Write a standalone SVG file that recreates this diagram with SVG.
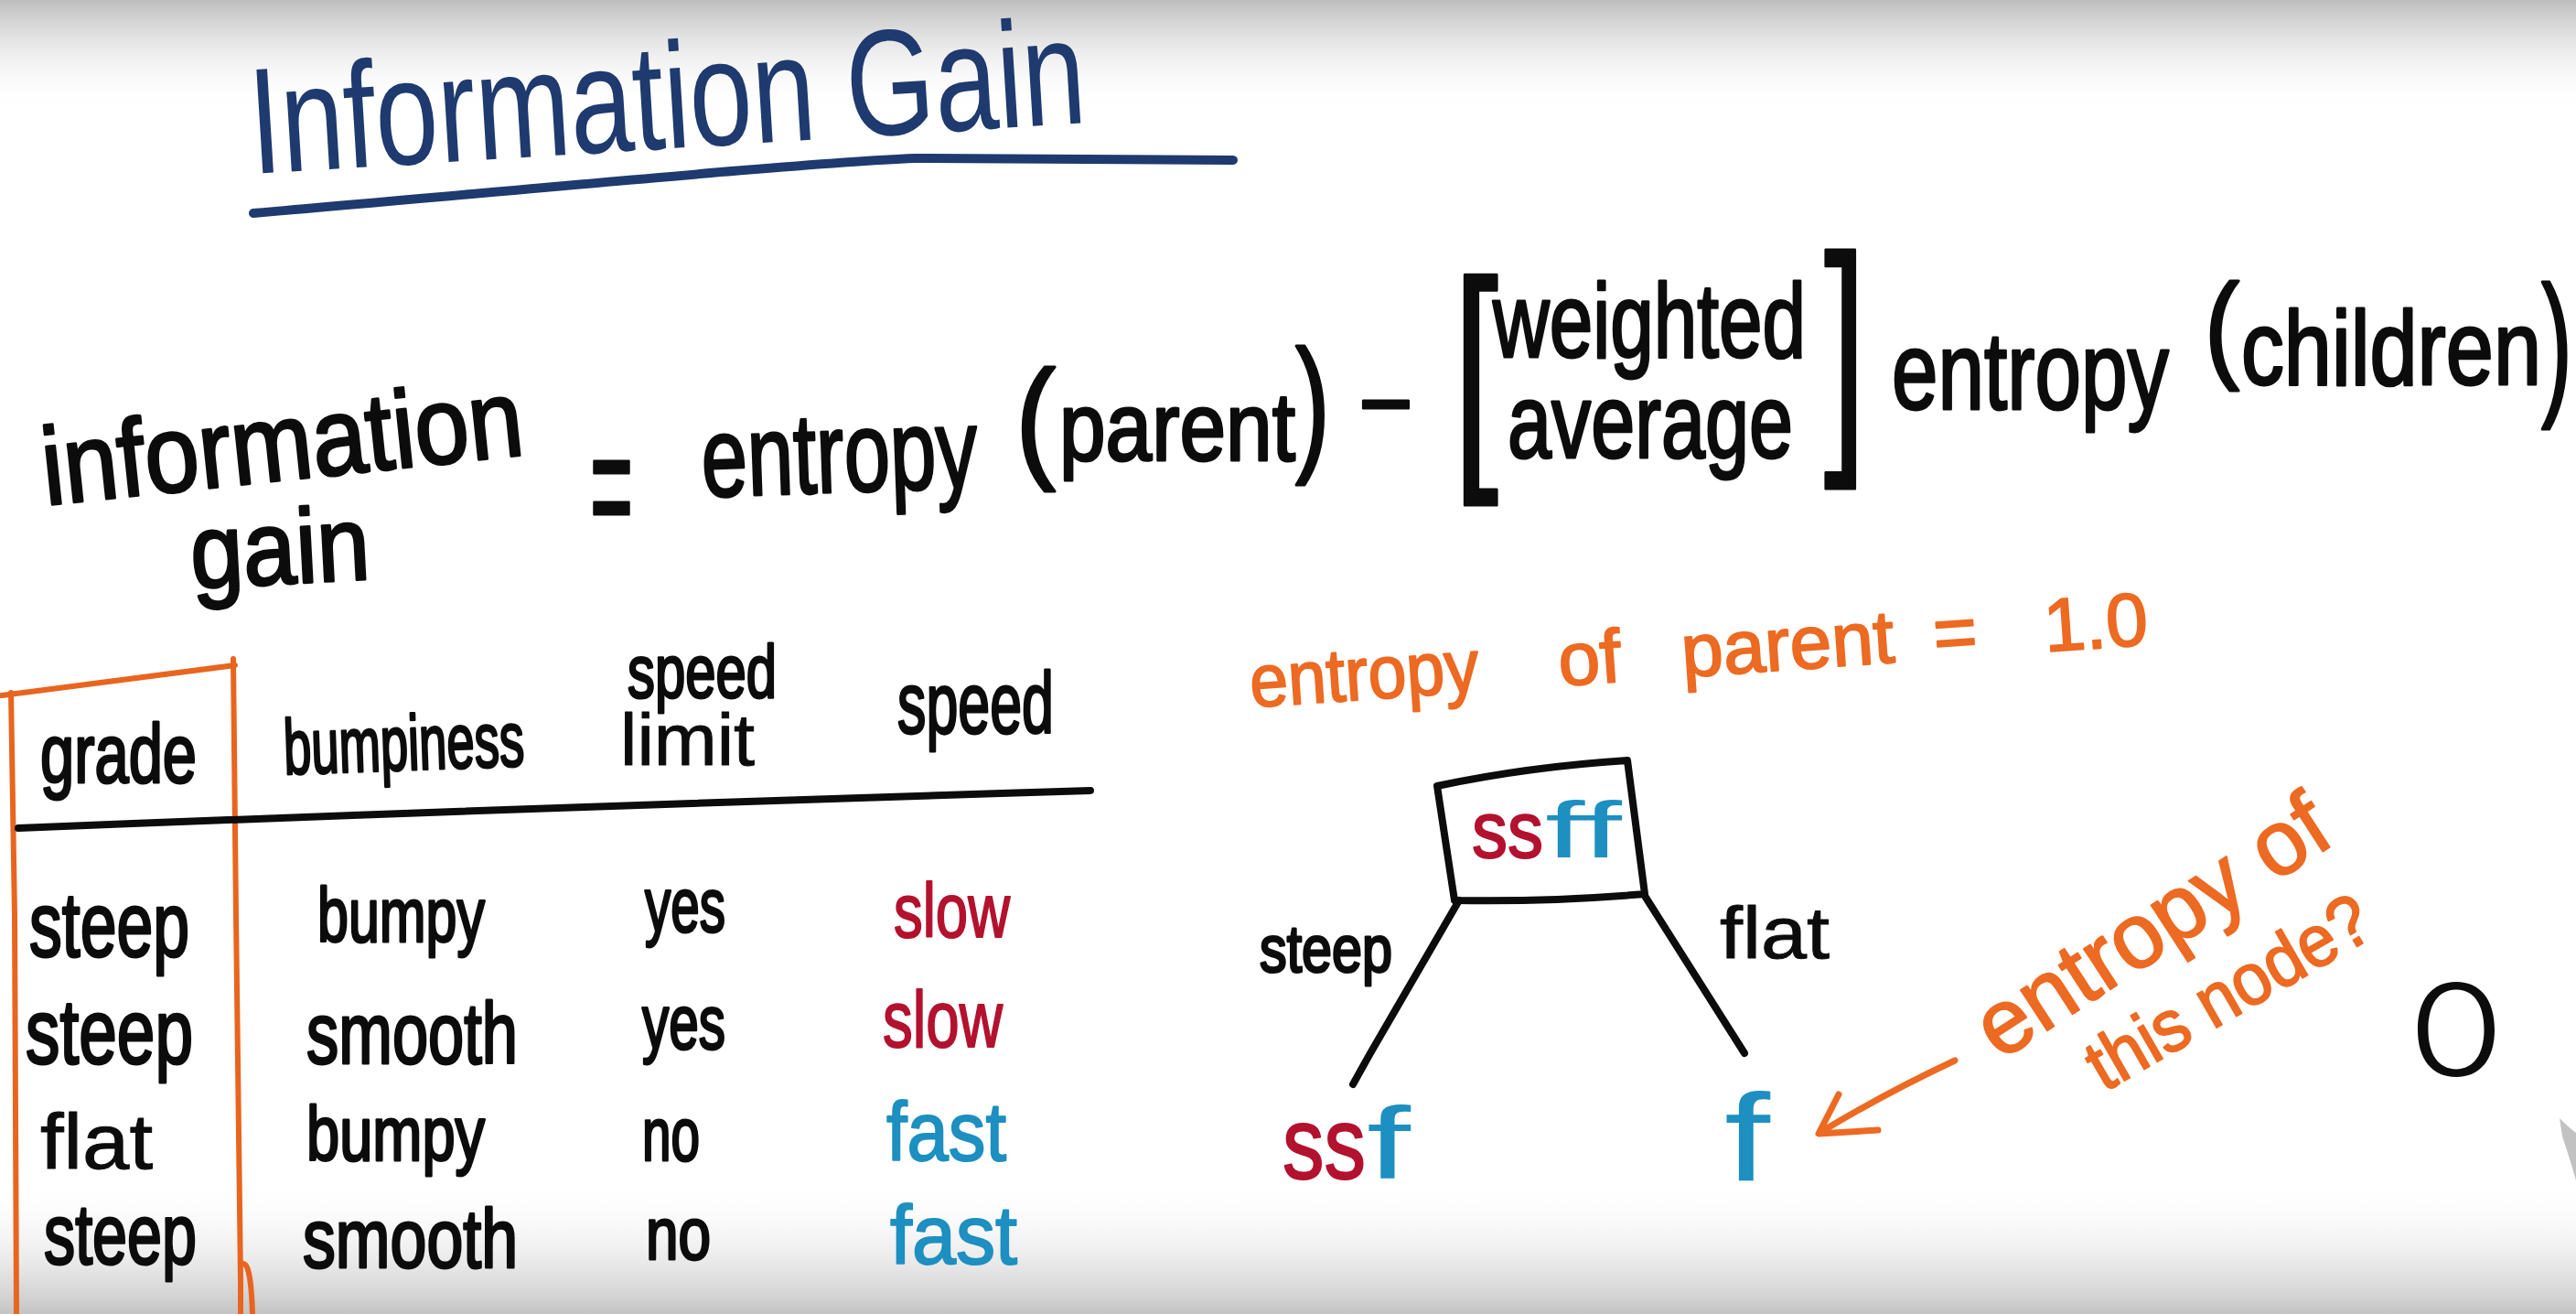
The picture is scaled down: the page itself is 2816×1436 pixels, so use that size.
<svg xmlns="http://www.w3.org/2000/svg" width="2816" height="1436" viewBox="0 0 2816 1436">
<defs>
<linearGradient id="topg" x1="0" y1="0" x2="0" y2="1"><stop offset="0" stop-color="#bdbdbd"/><stop offset="1" stop-color="#ffffff" stop-opacity="0"/></linearGradient>
<linearGradient id="botg" x1="0" y1="0" x2="0" y2="1"><stop offset="0" stop-color="#ffffff" stop-opacity="0"/><stop offset="1" stop-color="#c4c4c4"/></linearGradient>
<style>
text{font-family:"Liberation Sans",Arial,sans-serif;stroke-linejoin:round}
.k{fill:#0c0c0c;stroke:#0c0c0c;stroke-width:3}
.t{stroke-width:1}
.n{fill:#1e3a6e;stroke:none}
.o{fill:#ec6a22;stroke:#ec6a22;stroke-width:2}
.r{fill:#b3122f;stroke:#b3122f;stroke-width:2}
.b{fill:#1d8fc0;stroke:#1d8fc0;stroke-width:2}
.ln{fill:none;stroke:#0c0c0c;stroke-width:8;stroke-linecap:round;stroke-linejoin:round}
.ol{fill:none;stroke:#e8651f;stroke-width:6;stroke-linecap:round;stroke-linejoin:round}
</style>
</defs>
<rect width="2816" height="1436" fill="#ffffff"/>
<rect width="2816" height="120" fill="url(#topg)"/>
<rect y="1290" width="2816" height="146" fill="url(#botg)"/>

<g id="title">
<text class="n" x="276" y="190" font-size="165" textLength="915" lengthAdjust="spacingAndGlyphs" transform="rotate(-3.5 276 190)">Information Gain</text>
<path d="M277,233 C600,205 880,178 1000,173 L1348,175" fill="none" stroke="#1e3a6e" stroke-width="10" stroke-linecap="round"/>
</g>

<g id="formula">
<text class="k" x="50" y="552" font-size="120" textLength="528" lengthAdjust="spacingAndGlyphs" transform="rotate(-6 50 552)">information</text>
<text class="k" x="210" y="643" font-size="115" textLength="196" lengthAdjust="spacingAndGlyphs" transform="rotate(-3 210 643)">gain</text>
<text class="k" x="645" y="592" font-size="180" textLength="47" lengthAdjust="spacingAndGlyphs">=</text>
<text class="k" x="768" y="543" font-size="125" textLength="302" lengthAdjust="spacingAndGlyphs" transform="rotate(-2 768 543)">entropy</text>
<text class="k"><tspan x="1110" y="507" font-size="146" textLength="44" lengthAdjust="spacingAndGlyphs">(</tspan><tspan x="1158" y="503" font-size="105" textLength="258" lengthAdjust="spacingAndGlyphs">parent</tspan><tspan x="1416" y="496" font-size="163" textLength="38" lengthAdjust="spacingAndGlyphs">)</tspan></text>
<text class="k" x="1490" y="473" font-size="120" textLength="50" lengthAdjust="spacingAndGlyphs">–</text>
<text class="k" x="1588" y="496" font-size="270" textLength="50" lengthAdjust="spacingAndGlyphs">[</text>
<text class="k" x="1632" y="390" font-size="115" textLength="342" lengthAdjust="spacingAndGlyphs">weighted</text>
<text class="k" x="1648" y="500" font-size="115" textLength="312" lengthAdjust="spacingAndGlyphs">average</text>
<text class="k" x="1994" y="476" font-size="280" textLength="46" lengthAdjust="spacingAndGlyphs">]</text>
<text class="k" x="2068" y="447" font-size="120" textLength="303" lengthAdjust="spacingAndGlyphs">entropy</text>
<text class="k"><tspan x="2410" y="400" font-size="128" textLength="38" lengthAdjust="spacingAndGlyphs">(</tspan><tspan x="2450" y="420" font-size="115" textLength="328" lengthAdjust="spacingAndGlyphs">children</tspan><tspan x="2778" y="433" font-size="173" textLength="34" lengthAdjust="spacingAndGlyphs">)</tspan></text>
</g>

<g id="table">
<path class="ol" d="M2,760 L257,727"/>
<path class="ol" d="M12,757 L16,1000 L18,1436"/>
<path class="ol" d="M255,720 L258,1000 L263,1400 L263,1436"/>
<path class="ol" d="M264,1382 Q274,1374 276,1436"/>
<path class="ln" d="M20,905 Q600,882 1192,864"/>
<text class="k" x="44" y="855" font-size="90" textLength="171" lengthAdjust="spacingAndGlyphs">grade</text>
<text class="k" x="311" y="846" font-size="85" textLength="263" lengthAdjust="spacingAndGlyphs" transform="rotate(-2 311 846)">bumpiness</text>
<text class="k" x="686" y="762" font-size="82" textLength="163" lengthAdjust="spacingAndGlyphs">speed</text>
<text class="k t" x="678" y="836" font-size="80" textLength="147" lengthAdjust="spacingAndGlyphs">limit</text>
<text class="k" x="981" y="801" font-size="95" textLength="171" lengthAdjust="spacingAndGlyphs">speed</text>

<text class="k" x="32" y="1045" font-size="100" textLength="175" lengthAdjust="spacingAndGlyphs">steep</text>
<text class="k" x="347" y="1029" font-size="84" textLength="183" lengthAdjust="spacingAndGlyphs">bumpy</text>
<text class="k" x="705" y="1018" font-size="84" textLength="88" lengthAdjust="spacingAndGlyphs">yes</text>
<text class="r" x="977" y="1024" font-size="84" textLength="127" lengthAdjust="spacingAndGlyphs">slow</text>

<text class="k" x="28" y="1162" font-size="100" textLength="183" lengthAdjust="spacingAndGlyphs">steep</text>
<text class="k" x="335" y="1162" font-size="95" textLength="231" lengthAdjust="spacingAndGlyphs">smooth</text>
<text class="k" x="702" y="1146" font-size="84" textLength="91" lengthAdjust="spacingAndGlyphs">yes</text>
<text class="r" x="965" y="1144" font-size="88" textLength="131" lengthAdjust="spacingAndGlyphs">slow</text>

<text class="k t" x="44" y="1277" font-size="85" textLength="123" lengthAdjust="spacingAndGlyphs">flat</text>
<text class="k" x="335" y="1268" font-size="84" textLength="195" lengthAdjust="spacingAndGlyphs">bumpy</text>
<text class="k" x="702" y="1268" font-size="82" textLength="63" lengthAdjust="spacingAndGlyphs">no</text>
<text class="b" x="969" y="1268" font-size="90" textLength="131" lengthAdjust="spacingAndGlyphs">fast</text>

<text class="k" x="48" y="1381" font-size="92" textLength="167" lengthAdjust="spacingAndGlyphs">steep</text>
<text class="k" x="331" y="1385" font-size="90" textLength="235" lengthAdjust="spacingAndGlyphs">smooth</text>
<text class="k" x="706" y="1376" font-size="80" textLength="71" lengthAdjust="spacingAndGlyphs">no</text>
<text class="b" x="973" y="1381" font-size="90" textLength="139" lengthAdjust="spacingAndGlyphs">fast</text>
</g>

<g id="parent-entropy-note">
<text class="o" font-size="82" transform="rotate(-4 1368 773)" y="773"><tspan x="1368" textLength="251" lengthAdjust="spacingAndGlyphs">entropy</tspan> <tspan x="1706">of</tspan> <tspan x="1841" textLength="233" lengthAdjust="spacingAndGlyphs">parent</tspan> <tspan x="2117">=</tspan> <tspan x="2238">1.0</tspan></text>
</g>

<g id="node-parent">
<path class="ln" d="M1571,859 Q1670,838 1779,831 L1798,977 Q1690,986 1590,984 Z"/>
<text font-size="88" y="937"><tspan class="r" x="1609" textLength="78" lengthAdjust="spacingAndGlyphs">ss</tspan><tspan class="b" x="1689" textLength="84" lengthAdjust="spacingAndGlyphs" style="stroke-width:0">ff</tspan></text>
</g>

<g id="node-steep">
<text font-size="112" y="1288"><tspan class="r" x="1402" textLength="91" lengthAdjust="spacingAndGlyphs">ss</tspan><tspan class="b" x="1494" textLength="48" lengthAdjust="spacingAndGlyphs" style="stroke-width:0">f</tspan></text>
</g>

<g id="node-flat">
<text class="b" x="1885" y="1290" font-size="135" textLength="50" lengthAdjust="spacingAndGlyphs" style="stroke-width:0">f</text>
</g>

<g id="connectors">
<path class="ln" d="M1595,984 L1498,1151 L1479,1185"/>
<path class="ln" d="M1798,979 L1907,1151"/>
<text class="k" x="1377" y="1062" font-size="72" textLength="145" lengthAdjust="spacingAndGlyphs">steep</text>
<text class="k t" x="1880" y="1047" font-size="80" textLength="120" lengthAdjust="spacingAndGlyphs">flat</text>
<path d="M2137,1159 Q2060,1195 1989,1238 M2010,1196 L1988,1239 L2053,1235" fill="none" stroke="#ec6a22" stroke-width="7" stroke-linecap="round" stroke-linejoin="round"/>
</g>

<g id="question">
<text class="o" x="2186" y="1160" font-size="100" textLength="440" lengthAdjust="spacingAndGlyphs" transform="rotate(-33 2186 1160)">entropy of</text>
<text class="o" x="2300" y="1194" font-size="80" textLength="345" lengthAdjust="spacingAndGlyphs" transform="rotate(-30 2300 1194)">this node?</text>
</g>

<g id="answer">
<text x="2632" y="1176" font-size="140" textLength="106" lengthAdjust="spacingAndGlyphs" style="font-family:Inter,'Open Sans','Liberation Sans',sans-serif;font-weight:300;fill:#0c0c0c">0</text>
</g>

<path d="M2798,1222 Q2808,1232 2816,1238 L2816,1290 Q2808,1262 2801,1242 Z" fill="#9a9a9a" opacity="0.6"/>
</svg>
